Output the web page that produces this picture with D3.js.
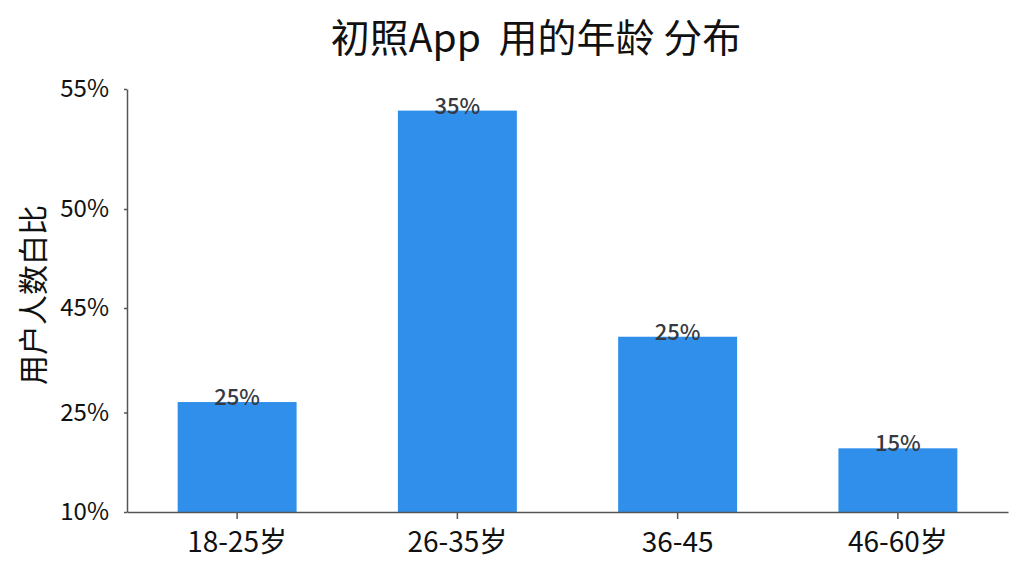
<!DOCTYPE html>
<html>
<head>
<meta charset="utf-8">
<script src="https://cdn.jsdelivr.net/npm/d3@7"></script>
<style>
  body { margin: 0; background: #fff; }
  text { font-family: "Noto Sans CJK SC", "Noto Sans", sans-serif; }
</style>
</head>
<body>
<svg id="chart" width="1024" height="576"></svg>
<script>
// data
const categories = ['18-25岁', '26-35岁', '36-45', '46-60岁'];
const values = [27.0, 54.1, 39.5, 19.6];
const barLabels = ['25%', '35%', '25%', '15%'];
const yTicks = [10, 25, 45, 50, 55];
const yTickPos = [512, 412.5, 308, 209, 89]; // uneven axis as drawn in the source

const svg = d3.select('#chart');

// x as bands
const x = d3.scaleBand()
  .domain(categories)
  .range([127, 1008])
  .paddingInner(0.46)
  .paddingOuter(0.23);

// piecewise y scale, ticks are not evenly spaced
const y = d3.scaleLinear()
  .domain(yTicks)
  .range(yTickPos);

// bars
svg.append('g')
  .selectAll('rect')
  .data(values)
  .join('rect')
  .attr('x', (d, i) => x(categories[i]))
  .attr('y', d => y(d))
  .attr('width', x.bandwidth())
  .attr('height', d => y(10) - y(d))
  .attr('fill', '#2f8fea');

// bar labels
svg.append('g')
  .selectAll('text')
  .data(values)
  .join('text')
  .attr('x', (d, i) => x(categories[i]) + x.bandwidth() / 2)
  .attr('y', d => y(d) + 3)
  .attr('text-anchor', 'middle')
  .attr('font-size', 22)
  .attr('font-weight', 500)
  .attr('fill', '#353a42')
  .text((d, i) => barLabels[i]);

// y axis
const yAxis = svg.append('g')
  .attr('transform', 'translate(127,0)')
  .call(d3.axisLeft(y).tickValues(yTicks).tickFormat(d => d + '%').tickSize(3).tickSizeOuter(0).tickPadding(15));

// x axis
const xAxis = svg.append('g')
  .attr('transform', 'translate(0,512)')
  .call(d3.axisBottom(x).tickSize(7).tickSizeOuter(0).tickPadding(13));

[yAxis, xAxis].forEach(ax => {
  ax.select('.domain').attr('stroke', '#555').attr('stroke-width', 1.5);
  ax.selectAll('.tick line').attr('stroke', '#555').attr('stroke-width', 1.5);
  ax.selectAll('.tick text')
    .attr('fill', '#111')
    .attr('font-family', '"Noto Sans CJK SC", "Noto Sans", sans-serif');
});
yAxis.selectAll('.tick text').attr('font-size', 24);
xAxis.selectAll('.tick text').attr('font-size', 28);

// title
svg.append('text')
  .attr('x', 536)
  .attr('y', 52)
  .attr('text-anchor', 'middle')
  .attr('font-size', 39)
  .attr('fill', '#111')
  .attr('xml:space', 'preserve')
  .style('white-space', 'pre')
  .text('初照App  用的年龄 分布');

// y axis title
svg.append('text')
  .attr('transform', 'translate(44,295) rotate(-90)')
  .attr('text-anchor', 'middle')
  .attr('font-size', 30)
  .attr('fill', '#111')
  .text('用户人数白比');
</script>
</body>
</html>
